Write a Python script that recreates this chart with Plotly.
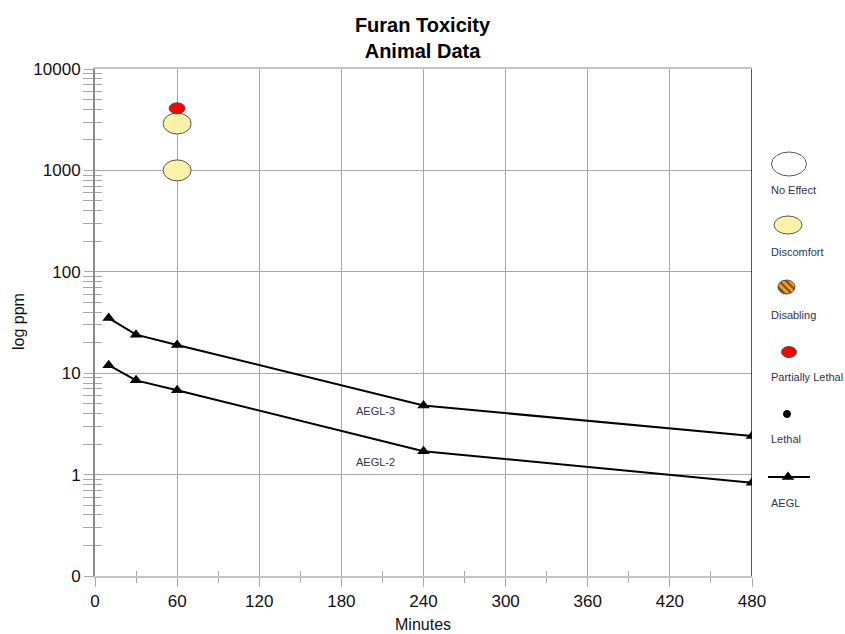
import numpy as np
import plotly.graph_objects as go

# ---------------- data ----------------
aegl_minutes = [10, 30, 60, 240, 480]
aegl3_ppm = [35, 24, 19, 4.8, 2.4]
aegl2_ppm = [12, 8.5, 6.8, 1.7, 0.83]

discomfort_minutes = [60, 60]
discomfort_ppm = [1000, 2900]
partial_lethal_minutes = [60]
partial_lethal_ppm = [4100]

y_tick_vals = [0.1, 1, 10, 100, 1000, 10000]
y_tick_text = ["0", "1", "10", "100", "1000", "10000"]
x_tick_vals = [0, 60, 120, 180, 240, 300, 360, 420, 480]
x_minor_vals = [30, 90, 150, 210, 270, 330, 390, 450]

legend_labels = ["No Effect", "Discomfort", "Disabling", "Partially Lethal", "Lethal", "AEGL"]
aegl_labels = ["AEGL-3", "AEGL-2"]

# ---------------- styling ----------------
FONT = "Liberation Sans, Arial, sans-serif"
YELLOW = "#fbf2aa"
OUTLINE = "#555555"
GRID = "#a8a8a8"
AXIS_Y = "#8c8c8c"
AXIS_X = "#c4c4c4"
LEG_TXT = "#333350"

W, H = 845, 634
ML, MR, MT, MB = 95, 5, 69, 58
PW = W - ML - MR
PH = H - MT - MB
plot_right_px = 752
main_dom = (plot_right_px - ML) / PW
leg_left_px = 758
leg_dom0 = (leg_left_px - ML) / PW
PX_PER_DECADE = PH / 5.0

minor_y = [m * 10.0 ** e for e in range(-1, 4) for m in range(2, 10)]

fig = go.Figure()

# AEGL lines
for vals in (aegl3_ppm, aegl2_ppm):
    fig.add_trace(go.Scatter(
        x=aegl_minutes, y=vals, mode="lines+markers",
        line=dict(color="black", width=2),
        marker=dict(symbol="triangle-up", size=11, color="black"),
        showlegend=False, hoverinfo="x+y"))

# dummy traces to hold overlay tick axes
fig.add_trace(go.Scatter(x=[], y=[], xaxis="x", yaxis="y2", showlegend=False))
fig.add_trace(go.Scatter(x=[], y=[], xaxis="x2", yaxis="y", showlegend=False))

shapes = []


def ellipse(xv, yv, rx, ry, fill):
    f = 10 ** (ry / PX_PER_DECADE)
    return dict(type="circle", xref="x", yref="y",
                xsizemode="pixel", xanchor=xv, x0=-rx, x1=rx,
                y0=yv / f, y1=yv * f,
                fillcolor=fill, line=dict(color=OUTLINE, width=1), layer="above")


for xv, yv in zip(discomfort_minutes, discomfort_ppm):
    shapes.append(ellipse(xv, yv, 14, 10.5, YELLOW))
for xv, yv in zip(partial_lethal_minutes, partial_lethal_ppm):
    shapes.append(ellipse(xv, yv, 8, 5.5, "#ff0000"))

# right border (black) at x = 480
shapes.append(dict(type="line", xref="x", yref="paper", x0=480, x1=480, y0=0, y1=1,
                   line=dict(color="black", width=1.3), layer="above"))

# ---------------- custom legend (legend axes in pixel units) ----------------
leg_text_y = [190, 252, 315, 377, 439, 503]
shapes.append(dict(type="circle", xref="x3", yref="y3",
                   x0=789 - 17.5, x1=789 + 17.5, y0=164 - 12, y1=164 + 12,
                   fillcolor="white", line=dict(color=OUTLINE, width=1)))
shapes.append(dict(type="circle", xref="x3", yref="y3",
                   x0=788 - 14, x1=788 + 14, y0=225 - 9, y1=225 + 9,
                   fillcolor=YELLOW, line=dict(color=OUTLINE, width=1)))
shapes.append(dict(type="circle", xref="x3", yref="y3",
                   x0=789 - 7.5, x1=789 + 7.5, y0=352 - 5.5, y1=352 + 5.5,
                   fillcolor="#ff0000", line=dict(color=OUTLINE, width=1)))
shapes.append(dict(type="circle", xref="x3", yref="y3",
                   x0=787 - 3.5, x1=787 + 3.5, y0=414 - 3.5, y1=414 + 3.5,
                   fillcolor="black", line=dict(color="black", width=1)))

# striped "Disabling" ellipse
t = np.linspace(0, 2 * np.pi, 60)
fig.add_trace(go.Scatter(
    x=786.5 + 8.5 * np.cos(t), y=287 + 7 * np.sin(t), xaxis="x3", yaxis="y3",
    mode="lines", fill="toself", line=dict(color="#333333", width=0.8),
    fillcolor="#f5a030",
    fillpattern=dict(shape="\\", fgcolor="black", bgcolor="#f5a030", size=5, solidity=0.45),
    showlegend=False, hoverinfo="skip"))

# AEGL legend line + triangle
fig.add_trace(go.Scatter(
    x=[768, 810], y=[477, 477], xaxis="x3", yaxis="y3", mode="lines",
    line=dict(color="black", width=2), showlegend=False, hoverinfo="skip"))
fig.add_trace(go.Scatter(
    x=[788], y=[477], xaxis="x3", yaxis="y3", mode="markers",
    marker=dict(symbol="triangle-up", size=11, color="black"),
    showlegend=False, hoverinfo="skip"))

annotations = []
for lab, ty in zip(legend_labels, leg_text_y):
    annotations.append(dict(text=lab, xref="x3", yref="y3", x=769, y=ty,
                            xanchor="left", yanchor="middle", showarrow=False,
                            font=dict(family=FONT, size=11, color=LEG_TXT)))

# AEGL labels
for lab, yl in zip(aegl_labels, [0.625, 0.121]):
    annotations.append(dict(text=lab, xref="x", yref="y", x=205, y=yl,
                            showarrow=False, xanchor="center", yanchor="middle",
                            font=dict(family=FONT, size=11, color=LEG_TXT)))

# axis titles
annotations.append(dict(text="log ppm", xref="paper", yref="paper",
                        x=(18 - ML) / PW, y=(576 - 322) / PH, textangle=-90,
                        showarrow=False, xanchor="center", yanchor="middle",
                        font=dict(family=FONT, size=16, color="#111111")))
annotations.append(dict(text="Minutes", xref="paper", yref="paper",
                        x=(423 - ML) / PW, y=(576 - 624) / PH,
                        showarrow=False, xanchor="center", yanchor="middle",
                        font=dict(family=FONT, size=16, color="#111111")))

fig.update_layout(
    width=W, height=H, autosize=False,
    margin=dict(l=ML, r=MR, t=MT, b=MB, autoexpand=False),
    paper_bgcolor="white", plot_bgcolor="white",
    font=dict(family=FONT, color="#111111"),
    title=dict(text="<b>Furan Toxicity<br>Animal Data</b>", x=0.5, xref="container",
               xanchor="center", y=1 - 32 / H, yanchor="top",
               font=dict(family=FONT, size=20, color="black")),
    showlegend=False,
    xaxis=dict(domain=[0, main_dom], range=[0, 480], tickmode="array",
               tickvals=x_tick_vals, ticks="outside", ticklen=9, tickcolor=GRID,
               showline=True, linecolor=AXIS_X, linewidth=2, mirror=True,
               showgrid=True, gridcolor=GRID, gridwidth=1, zeroline=False,
               tickfont=dict(size=17, color="#111111"),
               minor=dict(tickmode="array", tickvals=x_minor_vals, ticks="outside",
                          ticklen=5, tickcolor=GRID, showgrid=False)),
    xaxis2=dict(overlaying="x", range=[0, 480], anchor="y", side="bottom",
                tickmode="array", tickvals=[], ticks="", showticklabels=False,
                showgrid=False, zeroline=False, showline=False,
                minor=dict(tickmode="array", tickvals=x_minor_vals, ticks="inside",
                           ticklen=5, tickcolor=GRID, showgrid=False)),
    yaxis=dict(type="log", range=[-1, 4], tickmode="array", tickvals=y_tick_vals,
               ticktext=y_tick_text, ticks="outside", ticklen=9, tickcolor=GRID,
               showline=True, linecolor=AXIS_Y, linewidth=2,
               showgrid=True, gridcolor=GRID, gridwidth=1, zeroline=False,
               tickfont=dict(size=17, color="#111111"),
               minor=dict(tickmode="array", tickvals=minor_y, ticks="outside",
                          ticklen=10, tickcolor=GRID, showgrid=False)),
    yaxis2=dict(type="log", overlaying="y", range=[-1, 4], anchor="x", side="left",
                tickmode="array", tickvals=[], ticks="", showticklabels=False,
                showgrid=False, zeroline=False, showline=False,
                minor=dict(tickmode="array", tickvals=minor_y, ticks="inside",
                           ticklen=7, tickcolor=GRID, showgrid=False)),
    xaxis3=dict(domain=[leg_dom0, 1], range=[leg_left_px, ML + PW], anchor="y3",
                visible=False, fixedrange=True),
    yaxis3=dict(domain=[0, 1], range=[MT + PH, MT], anchor="x3",
                visible=False, fixedrange=True),
    shapes=shapes,
    annotations=annotations,
)

post = (
    "document.body.style.margin='0px';"
    "document.body.style.overflow='hidden';"
    "var gd=document.getElementById('{plot_id}');"
    "gd.style.width='845px';gd.style.height='634px';"
    "Plotly.relayout(gd,{width:845,height:634});"
)
fig.write_html("out.html", config={"displayModeBar": False, "responsive": False},
               post_script=post)
